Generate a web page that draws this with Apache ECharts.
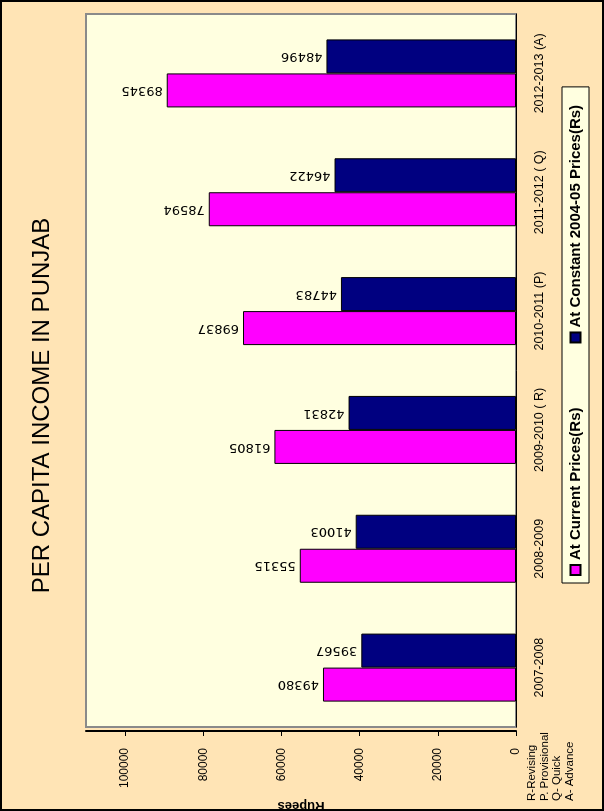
<!DOCTYPE html>
<html>
<head>
<meta charset="utf-8">
<script src="https://cdn.jsdelivr.net/npm/echarts@6/dist/echarts.min.js"></script>
<style>
html, body { margin: 0; padding: 0; background: #fff; overflow: hidden; }
/* chart is drawn upright (811x604) and then turned a quarter left */
#wrap { position: absolute; left: 0; top: 0; width: 811px; height: 604px;
        transform-origin: 0 0; transform: translate(0px, 811px) rotate(-90deg); }
#chart { position: absolute; left: 0; top: 0; width: 811px; height: 604px; }
#frame { position: absolute; left: 0; top: 0; width: 811px; height: 604px;
         box-sizing: border-box; border: 2px solid #000; pointer-events: none; }
</style>
</head>
<body>
<div id="wrap"><div id="chart"></div><div id="frame"></div></div>
<script>
var years = ['2007-2008', '2008-2009', '2009-2010 ( R)', '2010-2011 (P)', '2011-2012 ( Q)', '2012-2013 (A)'];
var currentPrices = [49380, 55315, 61805, 69837, 78594, 89345];    // At Current Prices(Rs)
var constantPrices = [39567, 41003, 42831, 44783, 46422, 48496];   // At Constant 2004-05 Prices(Rs)
var valueMin = 0;
var valueMax = 110000;
var valueStep = 20000;
var notes = ['R-Revising', 'P. Provisional', 'Q- Quick', 'A- Advance'];

var sans = '"Liberation Sans", Arial, sans-serif';

var barLabel = {
    show: true,
    position: 'top',
    rotate: 90,
    align: 'left',
    verticalAlign: 'middle',
    distance: 4,
    fontFamily: 'DejaVu Sans',
    fontSize: 13,
    color: '#000'
};

var myChart = echarts.init(document.getElementById('chart'));
myChart.setOption({
    backgroundColor: '#FFE4B5',
    animation: false,
    title: {
        text: 'PER CAPITA INCOME IN PUNJAB',
        left: 'center',
        top: 25,
        textStyle: {fontFamily: sans, fontSize: 24, fontWeight: 'normal', color: '#000'}
    },
    legend: {
        left: 228,
        top: 562,
        padding: [6, 18, 6, 7],
        itemGap: 64,
        itemWidth: 10,
        itemHeight: 10,
        icon: 'rect',
        backgroundColor: '#FFFFE0',
        borderColor: '#000',
        borderWidth: 1,
        textStyle: {fontFamily: sans, fontSize: 15, fontWeight: 'bold', color: '#000'},
        data: ['At Current Prices(Rs)', 'At Constant 2004-05 Prices(Rs)']
    },
    grid: {
        left: 84,
        right: 14,
        top: 86,
        bottom: 88,
        outerBoundsMode: 'none',
        show: true,
        backgroundColor: '#FFFFE0',
        borderColor: '#8a8a8a',
        borderWidth: 2
    },
    xAxis: {
        type: 'category',
        data: years,
        offset: 4,
        axisLine: {lineStyle: {color: '#000', width: 1}},
        axisTick: {length: 5, lineStyle: {color: '#000'}},
        axisLabel: {interval: 0, margin: 13, fontFamily: sans, fontSize: 12.5, color: '#000'}
    },
    yAxis: {
        type: 'value',
        min: valueMin,
        max: valueMax,
        interval: valueStep,
        offset: 4,
        name: 'Rupees',
        nameLocation: 'middle',
        nameGap: 66,
        nameTextStyle: {fontFamily: sans, fontSize: 13, fontWeight: 'bold', color: '#000'},
        axisLine: {show: true, lineStyle: {color: '#000', width: 2}},
        axisTick: {show: true, length: 5, lineStyle: {color: '#000'}},
        splitLine: {show: false},
        axisLabel: {
            showMaxLabel: false,
            margin: 17,
            fontFamily: sans,
            fontSize: 12,
            color: '#000',
            formatter: function (v) { return String(v); }
        }
    },
    series: [
        {
            name: 'At Current Prices(Rs)',
            type: 'bar',
            data: currentPrices,
            barWidth: 34,
            barGap: '0%',
            itemStyle: {color: '#FF00FF', borderColor: '#000', borderWidth: 1},
            label: barLabel
        },
        {
            name: 'At Constant 2004-05 Prices(Rs)',
            type: 'bar',
            data: constantPrices,
            barWidth: 34,
            barGap: '0%',
            itemStyle: {color: '#000080', borderColor: '#000', borderWidth: 1},
            label: barLabel
        }
    ],
    graphic: [
        {
            type: 'text',
            left: 10,
            top: 526,
            style: {text: notes.join('\n'), font: '11.5px "Liberation Sans", Arial', lineHeight: 12.5, fill: '#000'}
        }
    ]
});
</script>
</body>
</html>
